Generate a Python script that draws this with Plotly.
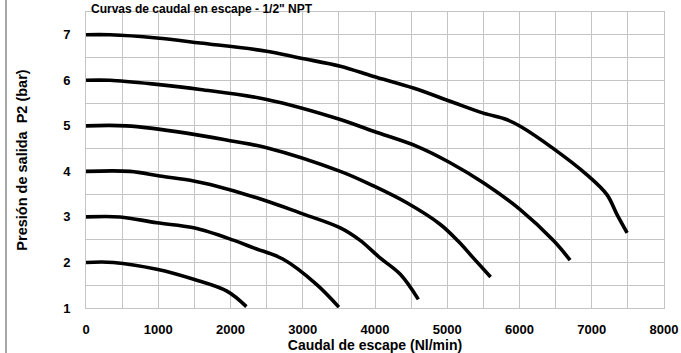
import plotly.graph_objects as go

# Flow (Nl/min) and outlet pressure P2 (bar) for each supply-pressure curve
flow_7 = [0, 330, 980, 1580, 2500, 2960, 3520, 3970, 4530, 5040, 5500, 5820, 6010, 6460, 6930, 7210, 7350, 7490]
p2_7 = [7.0, 7.0, 6.93, 6.82, 6.64, 6.49, 6.31, 6.09, 5.83, 5.54, 5.28, 5.14, 4.99, 4.51, 3.93, 3.49, 3.05, 2.65]

flow_6 = [0, 330, 980, 1580, 2500, 3520, 3980, 4580, 5040, 5500, 6010, 6470, 6700]
p2_6 = [6.0, 6.0, 5.91, 5.80, 5.58, 5.14, 4.88, 4.55, 4.19, 3.75, 3.16, 2.48, 2.05]

flow_5 = [0, 560, 1390, 2040, 2500, 3520, 3980, 4440, 4900, 5150, 5360, 5600]
p2_5 = [5.0, 5.0, 4.84, 4.66, 4.52, 4.0, 3.68, 3.31, 2.84, 2.47, 2.10, 1.68]

flow_4 = [0, 610, 1020, 1490, 1720, 2500, 2960, 3520, 3790, 4070, 4350, 4600]
p2_4 = [4.0, 4.0, 3.9, 3.79, 3.71, 3.35, 3.09, 2.76, 2.49, 2.10, 1.74, 1.19]

flow_3 = [0, 470, 980, 1490, 2040, 2320, 2730, 3190, 3500]
p2_3 = [3.0, 3.0, 2.87, 2.76, 2.49, 2.32, 2.07, 1.52, 1.02]

flow_2 = [0, 380, 980, 1490, 1950, 2220]
p2_2 = [2.0, 2.0, 1.85, 1.63, 1.37, 1.03]

x_ticks = [0, 1000, 2000, 3000, 4000, 5000, 6000, 7000, 8000]
y_ticks = [1, 2, 3, 4, 5, 6, 7]

title_text = 'Curvas de caudal en escape - 1/2" NPT'
x_title = "Caudal de escape (Nl/min)"
y_title = "Presión de salida  P2 (bar)"

series = [(flow_7, p2_7), (flow_6, p2_6), (flow_5, p2_5),
          (flow_4, p2_4), (flow_3, p2_3), (flow_2, p2_2)]

fig = go.Figure()
for fx, py in series:
    fig.add_trace(go.Scatter(x=fx, y=py, mode="lines",
                             line=dict(color="black", width=3.6, shape="spline", smoothing=1.0),
                             showlegend=False, hoverinfo="skip"))

font_bold = "Liberation Sans"
grid_c = "#c4c4c4"

fig.update_layout(
    width=681, height=353,
    margin=dict(l=86, r=17, t=12, b=45, autoexpand=False),
    paper_bgcolor="white", plot_bgcolor="white",
    font=dict(family=font_bold, color="black"),
    xaxis=dict(range=[0, 8000], tickvals=x_ticks, automargin=False,
               showgrid=True, gridcolor=grid_c, gridwidth=1,
               minor=dict(dtick=500, showgrid=True, gridcolor=grid_c, gridwidth=1),
               showline=True, linecolor=grid_c, linewidth=1, mirror=True,
               zeroline=False, ticks="", ticklen=0, ticklabelstandoff=9,
               tickfont=dict(size=13, family=font_bold, color="black", weight="bold"),
               title=dict(text=x_title, standoff=5,
                          font=dict(size=14, family=font_bold, color="black", weight="bold"))),
    yaxis=dict(range=[1, 7.5], tickvals=y_ticks, automargin=False,
               showgrid=True, gridcolor=grid_c, gridwidth=1,
               minor=dict(dtick=0.5, showgrid=True, gridcolor=grid_c, gridwidth=1),
               showline=True, linecolor=grid_c, linewidth=1, mirror=True,
               zeroline=False, ticks="", ticklen=0, ticklabelstandoff=12,
               tickfont=dict(size=13, family=font_bold, color="black", weight="bold"),
               title=dict(text=y_title, standoff=32,
                          font=dict(size=14.5, family=font_bold, color="black", weight="bold"))),
    annotations=[dict(text="<b>" + title_text + "</b>", xref="paper", yref="paper",
                      x=4 / 578, y=1, xanchor="left", yanchor="top", yshift=11,
                      showarrow=False, borderpad=0,
                      font=dict(size=12, family=font_bold, color="black"))],
    shapes=[dict(type="line", xref="paper", yref="paper",
                 x0=-80 / 578, x1=-80 / 578, y0=-0.2, y1=1.1,
                 line=dict(color="#888888", width=1.5))],
)

fig.write_html("out.html", config={"displayModeBar": False},
               post_script="document.body.style.margin='0';document.body.style.overflow='hidden';")
